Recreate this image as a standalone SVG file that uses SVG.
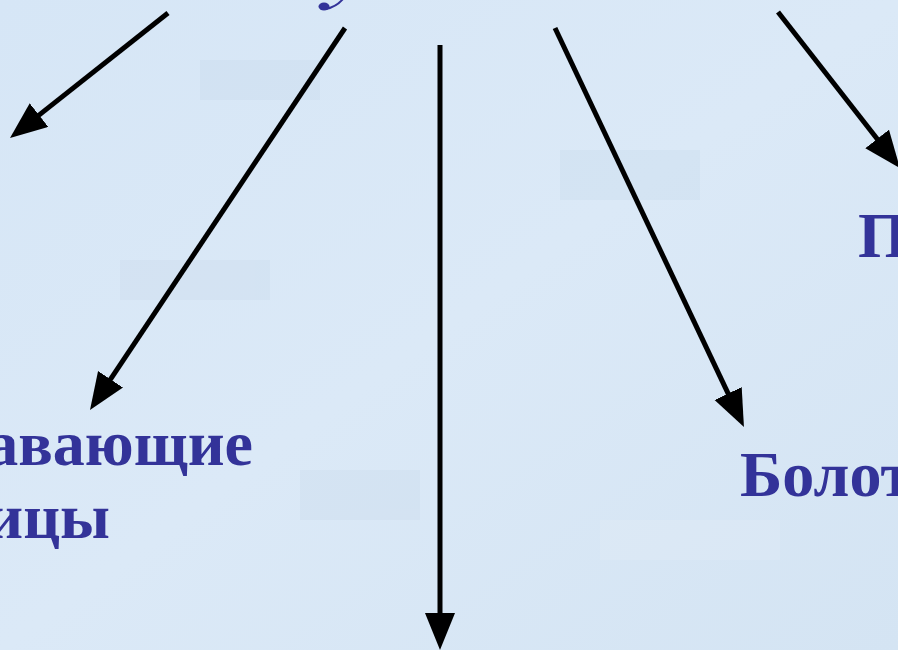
<svg xmlns="http://www.w3.org/2000/svg" width="898" height="650" viewBox="0 0 898 650">
  <style>
    .lbl { font-family: "Liberation Serif", "Times New Roman", serif; font-weight: bold; font-size: 64px; fill: #333399; }
    .conn { stroke: #000; stroke-width: 5; fill: none; }
  </style>
  <defs>
    <linearGradient id="bg" x1="0" y1="0" x2="1" y2="1">
      <stop offset="0" stop-color="#d6e6f6"/>
      <stop offset="0.5" stop-color="#dbe9f7"/>
      <stop offset="1" stop-color="#d4e4f3"/>
    </linearGradient>
    <marker id="ah" markerUnits="userSpaceOnUse" markerWidth="40" markerHeight="32" refX="17" refY="15" orient="auto">
      <path d="M0,0 L37,15 L0,30 Z" fill="#000"/>
    </marker>
  </defs>
  <rect width="898" height="650" fill="url(#bg)"/>
  <g opacity="0.18">
    <rect x="200" y="60" width="120" height="40" fill="#b8cce2"/>
    <rect x="560" y="150" width="140" height="50" fill="#b8cce2"/>
    <rect x="120" y="260" width="150" height="40" fill="#bccfe4"/>
    <rect x="600" y="520" width="180" height="40" fill="#eef5fc"/>
    <rect x="300" y="470" width="120" height="50" fill="#bccfe4"/>
  </g>
  <g id="title-fragment">
    <ellipse cx="324" cy="6.5" rx="5.5" ry="4" fill="#333399"/>
    <path d="M326,9 Q336,7 343,-1" stroke="#333399" stroke-width="2" fill="none"/>
  </g>
  <g id="connectors">
    <line class="conn" x1="168" y1="13" x2="25.7" y2="125.6" marker-end="url(#ah)"/>
    <line class="conn" x1="345" y1="28" x2="101.1" y2="393.4" marker-end="url(#ah)"/>
    <line class="conn" x1="440" y1="45" x2="440" y2="630" marker-end="url(#ah)"/>
    <line class="conn" x1="555" y1="28" x2="735.4" y2="408.9" marker-end="url(#ah)"/>
    <line class="conn" x1="778" y1="12" x2="887.6" y2="152.3" marker-end="url(#ah)"/>
  </g>
  <g id="node-floating">
    <text class="lbl" x="253" y="465" text-anchor="end">авающие</text>
    <text class="lbl" x="110" y="538" text-anchor="end">ицы</text>
  </g>
  <g id="node-swamp">
    <text class="lbl" x="740" y="496">Болот</text>
  </g>
  <g id="node-right">
    <text class="lbl" x="858" y="257">П</text>
  </g>
</svg>
